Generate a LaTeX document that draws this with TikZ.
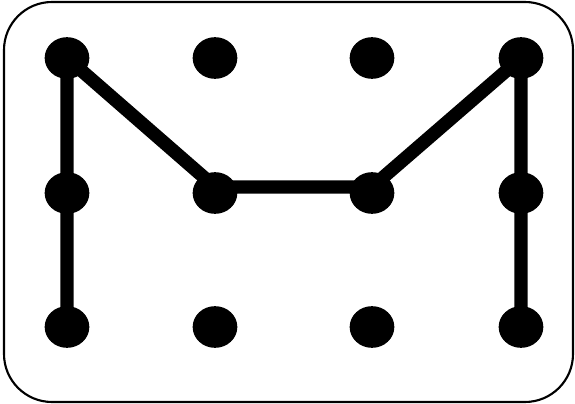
\documentclass[tikz,border=0pt]{standalone}
\usepackage{tikz}
\usetikzlibrary{shapes.geometric}

\tikzset{
  dot/.style={ellipse, fill=black, inner sep=0pt,
              minimum width=1.34cm, minimum height=1.25cm},
  stroke/.style={line width=0.4cm, line cap=butt, line join=miter}
}

\begin{document}
\begin{tikzpicture}[x=0.03cm, y=-0.03cm]
    \useasboundingbox (0,0) rectangle (575,404);
    % frame
    \draw[line width=1.8pt, rounded corners=1.44cm] (4,2) rectangle (573,402);
    % grid of dots
    \foreach \c/\x in {1/67, 2/215, 3/372, 4/521}
      \foreach \r/\y in {1/58, 2/193, 3/327}
        \node[dot] (d-\c-\r) at (\x,\y) {};
    % pattern
    \draw[stroke] (d-1-3.center) -- (d-1-2.center) -- (d-1-1.center)
          -- ([yshift=0.18cm]d-2-2.center) -- ([yshift=0.18cm]d-3-2.center)
          -- (d-4-1.center) -- (d-4-2.center) -- (d-4-3.center);
\end{tikzpicture}
\end{document}
